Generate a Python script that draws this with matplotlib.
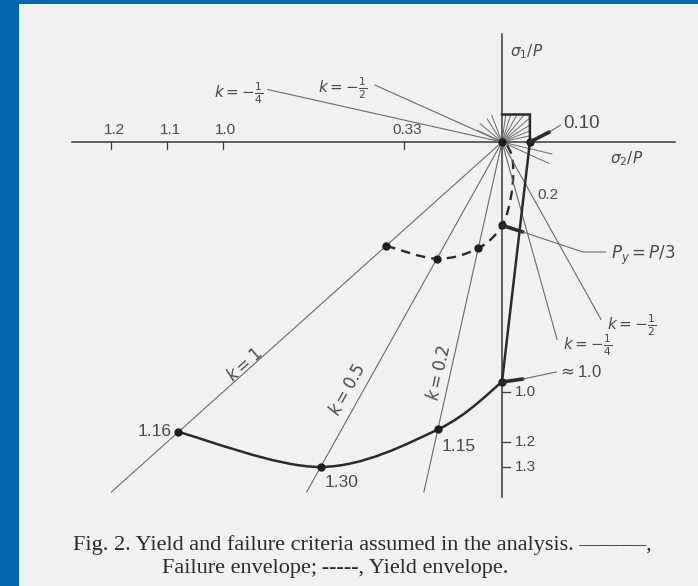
import numpy as np
import matplotlib.pyplot as plt
from matplotlib.path import Path
from matplotlib.patches import PathPatch, Rectangle

# k = sigma2/sigma1 rays into the biaxial compression quadrant
ray_k = [1.0, 0.5, 0.2]
ray_labels = ['$k=1$', '$k=0.5$', '$k=0.2$']
ray_end = 1.4   # |sigma1/P| where the rays stop

# negative-k rays: below the sigma2 axis and left of the sigma1 axis
tens_k = [-0.5, -0.25]
tens_k_labels = [r'$k=-\frac{1}{2}$', r'$k=-\frac{1}{4}$']
tens_len_lower = [0.71, 0.79]
tens_len_upper = [0.455, 0.84]

# failure envelope, |sigma1/P| on each ray (k = 1, 0.5, 0.2, 0)
fail_k = [1.0, 0.5, 0.2, 0.0]
fail_s1 = [1.16, 1.30, 1.15, 0.96]
fail_labels = ['1.16', '1.30', '1.15']
fail_tension = 0.10   # sigma2/P cut-off
fail_cap = 0.11       # sigma1/P cut-off

# yield envelope, |sigma1/P| on each ray, then the tension-side tail
yield_k = [1.0, 0.5, 0.2, 0.0]
yield_s1 = [0.415, 0.467, 0.425, 1 / 3]
yield_tail_s2 = [0.035, 0.038, 0.012]
yield_tail_s1 = [-0.20, -0.07, 0.0]

# hatching fan round the origin (degrees, length in sigma/P)
fan_box_deg = [14, 24, 34, 44, 54, 64, 74, 83]
fan_free_deg = [109, 120, 137, 152, -15, -27]
fan_free_len = [0.113, 0.107, 0.107, 0.10, 0.185, 0.188]

# tick marks on the two axes
h_tick_pos = [-1.0, -1.2, -1.4, -0.35]
h_tick_labels = ['1.0', '1.1', '1.2', '0.33']
v_tick_pos = [-1.0, -1.2, -1.3]
v_tick_labels = ['1.0', '1.2', '1.3']

INK = '#2b2b2b'
THIN = '#6a6a6a'
TXT = '#4a4a4a'
SANS = 'Liberation Sans'


def smooth_path(xs, ys):
    """Catmull-Rom style cubic Bezier path through the given points."""
    pts = np.column_stack([xs, ys]).astype(float)
    n = len(pts)
    verts = [pts[0]]
    codes = [Path.MOVETO]
    for i in range(n - 1):
        p0 = pts[max(i - 1, 0)]
        p1 = pts[i]
        p2 = pts[i + 1]
        p3 = pts[min(i + 2, n - 1)]
        verts += [p1 + (p2 - p0) / 6, p2 - (p3 - p1) / 6, p2]
        codes += [Path.CURVE4] * 3
    return Path(verts, codes)


plt.rcParams['mathtext.fontset'] = 'dejavusans'

fig = plt.figure(figsize=(6.98, 5.86), dpi=100)
fig.patch.set_facecolor('#0765ad')
fig.patches.append(Rectangle((19 / 698, 0), 1, 1 - 4 / 586, transform=fig.transFigure,
                             facecolor='#f1f1f1', edgecolor='none', zorder=-1))

ax = fig.add_axes([0, 0, 1, 1])
ax.set_facecolor('none')
ax.set_xlim(-502 / 279, 196 / 279)
ax.set_ylim(-444 / 250, 142 / 250)
ax.axis('off')

# axes
ax.plot([-1.54, 0.62], [0, 0], color='#3a3a3a', lw=1.1)
ax.plot([0, 0], [-1.42, 0.43], color='#3a3a3a', lw=1.1)

for pos, lab in zip(h_tick_pos, h_tick_labels):
    ax.plot([pos, pos], [0, -0.028], color='#3a3a3a', lw=0.9)
    ax.text(pos + 0.01, 0.018, lab, ha='center', va='bottom', fontsize=11,
            color=TXT, family=SANS)
for pos, lab in zip(v_tick_pos, v_tick_labels):
    ax.plot([0, 0.03], [pos, pos], color='#3a3a3a', lw=0.9)
    ax.text(0.045, pos, lab, ha='left', va='center', fontsize=11,
            color=TXT, family=SANS)

ax.text(0.03, 0.36, r'$\sigma_1/P$', ha='left', va='center', fontsize=11, color=TXT)
ax.text(0.448, -0.068, r'$\sigma_2/P$', ha='center', va='center', fontsize=11, color=TXT)

# compression rays with rotated labels
label_xy = [(-0.921, -0.892), (-0.552, -0.992), (-0.226, -0.924)]
for k, lab, (lx, ly) in zip(ray_k, ray_labels, label_xy):
    ax.plot([0, -k * ray_end], [0, -ray_end], color=THIN, lw=0.8)
    p0 = ax.transData.transform((0, 0))
    p1 = ax.transData.transform((k, 1))
    ang = np.degrees(np.arctan2(p1[1] - p0[1], p1[0] - p0[0]))
    ax.text(lx, ly, lab, rotation=ang, ha='center', va='center', fontsize=12,
            color=TXT, rotation_mode='anchor')

# negative-k rays
lower_lab_xy = [(0.466, -0.732), (0.305, -0.812)]
upper_lab_xy = [(-0.573, 0.216), (-0.946, 0.196)]
for k, lab, t_lo, t_up, llo, lup in zip(tens_k, tens_k_labels, tens_len_lower,
                                          tens_len_upper, lower_lab_xy, upper_lab_xy):
    ax.plot([0, -k * t_lo], [0, -t_lo], color=THIN, lw=0.8)
    ax.plot([0, -t_up], [0, -k * t_up], color=THIN, lw=0.8)
    ax.text(*llo, lab, ha='center', va='center', fontsize=11, color=TXT)
    ax.text(*lup, lab, ha='center', va='center', fontsize=11, color=TXT)

# hatching fan at the origin
for a in np.radians(fan_box_deg):
    t = min(fail_tension / np.cos(a), fail_cap / np.sin(a))
    ax.plot([0, t * np.cos(a)], [0, t * np.sin(a)], color=THIN, lw=0.7)
for a, r in zip(np.radians(fan_free_deg), fan_free_len):
    ax.plot([0, r * np.cos(a)], [0, r * np.sin(a)], color=THIN, lw=0.7)

# failure envelope
fx = [-k * s for k, s in zip(fail_k, fail_s1)]
fy = [-s for s in fail_s1]
ax.add_patch(PathPatch(smooth_path(fx, fy), facecolor='none', edgecolor=INK, lw=1.8))
ax.plot([fx[-1], fail_tension, fail_tension, 0], [fy[-1], 0, fail_cap, fail_cap],
        color=INK, lw=1.8, solid_joinstyle='miter')
ax.plot(fx, fy, 'o', color='#1e1e1e', ms=5)
ax.plot([fail_tension, 0], [0, 0], 'o', color='#1e1e1e', ms=5)

fail_lab_xy = [(-1.244, -1.16), (-0.575, -1.364), (-0.155, -1.22)]
for lab, (lx, ly) in zip(fail_labels, fail_lab_xy):
    ax.text(lx, ly, lab, ha='center', va='center', fontsize=12.5, color=TXT, family=SANS)

# yield envelope
yx = [-k * s for k, s in zip(yield_k, yield_s1)]
yy = [-s for s in yield_s1]
ax.add_patch(PathPatch(smooth_path(yx + yield_tail_s2, yy + yield_tail_s1),
                       facecolor='none', edgecolor=INK, lw=1.7, linestyle=(0, (4, 2.6))))
ax.plot(yx, yy, 'o', color='#1e1e1e', ms=5)


def leader(pt, mid, end, tail=None):
    ax.plot([pt[0], mid[0]], [pt[1], mid[1]], color=INK, lw=2.6, solid_capstyle='round')
    xs = [mid[0], end[0]] + ([tail[0]] if tail else [])
    ys = [mid[1], end[1]] + ([tail[1]] if tail else [])
    ax.plot(xs, ys, color=THIN, lw=0.8)


leader((fail_tension, 0), (0.17, 0.04), (0.21, 0.068))
ax.text(0.218, 0.072, '0.10', ha='left', va='center', fontsize=13.5, color=TXT, family=SANS)

leader((0, -1 / 3), (0.075, -0.36), (0.29, -0.44), (0.37, -0.44))
ax.text(0.39, -0.452, r'$P_y = P/3$', ha='left', va='center', fontsize=12, color=TXT)

leader((0, -fail_s1[-1]), (0.075, -0.948), (0.195, -0.92))
ax.text(0.197, -0.92, r'$\approx$1.0', ha='left', va='center', fontsize=12, color=TXT,
        family=SANS)

ax.text(0.165, -0.212, '0.2', ha='center', va='center', fontsize=11, color=TXT, family=SANS)

# caption
fig.text(0.519, 1 - 545 / 586, 'Fig. 2. Yield and failure criteria assumed in the analysis. \u2014\u2014\u2014,',
         ha='center', va='center', fontsize=16, family='Liberation Serif', color='#2a2a2a')
fig.text(0.48, 1 - 568 / 586, 'Failure envelope;\u2009-----, Yield envelope.',
         ha='center', va='center', fontsize=16, family='Liberation Serif', color='#2a2a2a')

fig.savefig('out.png', dpi=100)
